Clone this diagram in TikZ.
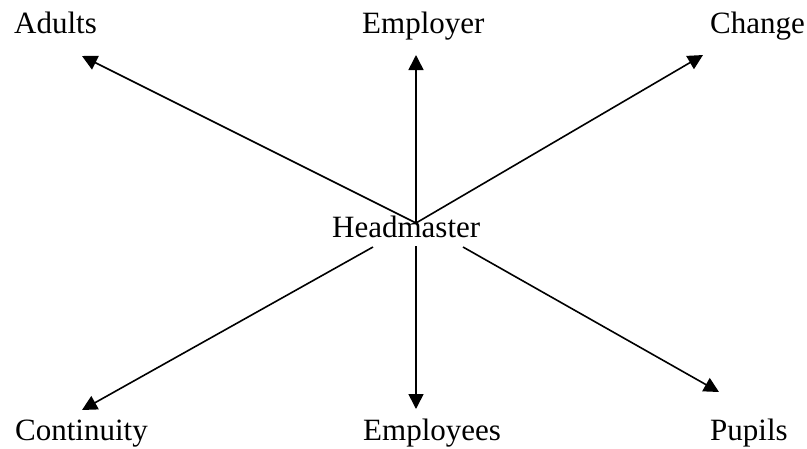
\documentclass[tikz,border=0pt]{standalone}
\usepackage{fontspec}
\setmainfont{Liberation Serif}
\usetikzlibrary{arrows.meta}
\begin{document}
\begin{tikzpicture}[x=1pt,y=-1pt,
  lbl/.style={anchor=base west,inner sep=0pt,font=\fontsize{31}{34}\selectfont},
  rel/.style={line width=1.6pt,-{Triangle[length=15pt,width=15pt]}}]
\useasboundingbox (0,0) rectangle (807,448);
% role labels
\node[lbl] (adults) at (14,33) {Adults};
\node[lbl] (employer) at (362,33) {Employer};
\node[lbl] (change) at (710,33) {Change};
\node[lbl] (head) at (332,237) {Headmaster};
\node[lbl] (continuity) at (15,440) {Continuity};
\node[lbl] (employees) at (363,440) {Employees};
\node[lbl] (pupils) at (710,440) {Pupils};
% start points around the central label
\coordinate (hup) at (416,223);
\coordinate (hdl) at (373,247);
\coordinate (hdm) at (416,246);
\coordinate (hdr) at (463,247);
% arrow tips near each outer label
\coordinate (tadults) at (82,56);
\coordinate (temployer) at (416,55);
\coordinate (tchange) at (703,55);
\coordinate (tcontinuity) at (82,410);
\coordinate (temployees) at (416,409);
\coordinate (tpupils) at (719,392);
\draw[rel] (hup) -- (tadults);
\draw[rel] (hup) -- (temployer);
\draw[rel] (hup) -- (tchange);
\draw[rel] (hdl) -- (tcontinuity);
\draw[rel] (hdm) -- (temployees);
\draw[rel] (hdr) -- (tpupils);
\end{tikzpicture}
\end{document}
